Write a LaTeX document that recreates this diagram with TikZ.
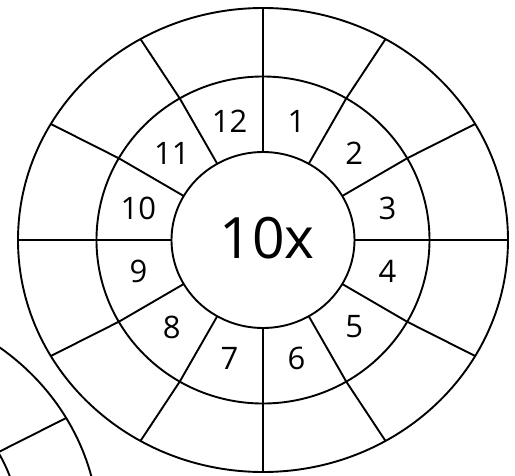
\documentclass[tikz,border=0pt]{standalone}
\usepackage{fontspec}
\setmainfont{Open Sans}

\begin{document}
\begin{tikzpicture}[x=1pt,y=1pt,ring/.style={draw,line width=1.9pt},num/.style={font=\fontsize{31}{31}\selectfont,inner sep=0pt},hub/.style={font=\fontsize{57}{57}\selectfont,inner sep=0pt}]
\useasboundingbox (-263,-235) rectangle (252,240);
\clip (-263,-235) rectangle (252,240);
% dial and the edge of the next one
\foreach \cx/\cy in {0/0,-409/-294}{
  \begin{scope}[shift={(\cx,\cy)}]
  \draw[ring] (0,0) ellipse [x radius=245,y radius=232];
  \draw[ring] (0,0) ellipse [x radius=166.5,y radius=163.5];
  \draw[ring] (0,0) ellipse [x radius=91.5,y radius=88];
  \foreach \a in {0,30,...,330}
    \draw[ring] (\a:91.5 and 88) -- (\a:166.5 and 163.5) -- (\a:245 and 232);
  \end{scope}
}
\node[hub] (c) at (4,2) {10x};
\foreach \k in {1,...,12}
  \node[num] (n\k) at ({75-30*(\k-1)}:129 and 123) {\k};
\end{tikzpicture}
\end{document}
